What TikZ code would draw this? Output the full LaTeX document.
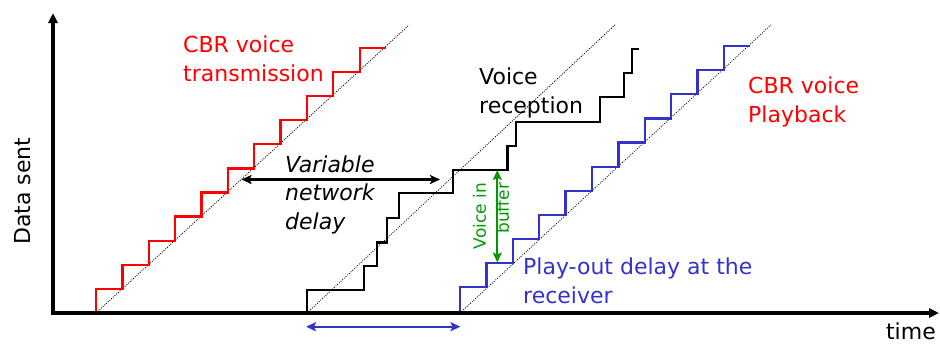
\documentclass[tikz,border=0pt]{standalone}
\usepackage{fontspec}
\setmainfont{DejaVu Sans}
\usetikzlibrary{arrows.meta}
\definecolor{cbrred}{RGB}{255,0,0}
\definecolor{pblue}{RGB}{51,51,204}
\definecolor{bgreen}{RGB}{0,153,0}
\begin{document}
\begin{tikzpicture}[x=1pt,y=-1pt,
  axis/.style={line width=3.3pt,-{Triangle[length=10pt,width=9pt]}},
  stair/.style={line width=2.3pt, line join=miter},
  guide/.style={line width=0.8pt, dash pattern=on 1pt off 1.3pt},
  lbl/.style={font=\fontsize{22}{29}\selectfont, inner sep=0pt, align=left, anchor=base west},
  dbl/.style={line width=2.2pt, {Stealth[length=10pt,width=9pt,inset=2pt]}-{Stealth[length=10pt,width=9pt,inset=2pt]}},
]
\useasboundingbox (0,0) rectangle (940,343);

% guides
\coordinate (gr0) at (96,313);  \coordinate (gr1) at (409,25);
\coordinate (gk0) at (307,313); \coordinate (gk1) at (616,24);
\coordinate (gb0) at (460,313); \coordinate (gb1) at (772,24);
\draw[guide] (gr0) -- (gr1);
\draw[guide] (gk0) -- (gk1);
\draw[guide] (gb0) -- (gb1);

% red transmission staircase
\draw[stair, cbrred] (96,313) \foreach \i in {0,...,10} { -- ({96+26.37*\i},{289-24.13*\i}) -- ({96+26.37*(\i+1)},{289-24.13*\i}) };

% blue playback staircase
\draw[stair, pblue] (460,313) \foreach \i in {0,...,10} { -- ({460+26.4*\i},{287.3-24.13*\i}) -- ({460+26.4*(\i+1)},{287.3-24.13*\i}) };

% black reception staircase
\draw[stair, black] (307,313) -- (307,290) -- (364,290) -- (364,266) -- (376.7,266) -- (376.7,242.5)
  -- (387.3,242.5) -- (387.3,218.3) -- (398.7,218.3) -- (398.7,193) -- (453.3,193) -- (453.3,170)
  -- (507.5,170) -- (507.5,146) -- (516,146) -- (516,121.7) -- (600,121.7) -- (600,97.3)
  -- (624,97.3) -- (624,73.3) -- (632.3,73.3) -- (632.3,49.3) -- (639.3,49.3);

% axes
\coordinate (origin) at (53,313);
\coordinate (ytop) at (53,13);
\coordinate (xend) at (939,313);
\draw[axis] ([yshift=-1.65pt]origin) -- (ytop);
\draw[axis] ([xshift=-1.65pt]origin) -- (xend);

% arrows
\coordinate (vd0) at (241.5,179.5); \coordinate (vd1) at (440,179.5);
\draw[dbl, black] (vd0) -- (vd1);
\coordinate (pd0) at (306,326.7); \coordinate (pd1) at (460.5,326.7);
\draw[dbl, pblue] (pd0) -- (pd1);
\coordinate (vb0) at (497.3,170); \coordinate (vb1) at (497.3,262.5);
\draw[dbl, bgreen, line width=1.8pt] (vb0) -- (vb1);

% labels
\node[lbl, text=cbrred] (tx) at (183,81) {CBR voice\\transmission};
\node[lbl] (rx) at (479,113) {Voice\\reception};
\node[lbl, text=cbrred] (pb) at (748,122) {CBR voice\\Playback};
\node[lbl, text=pblue] (pod) at (523,303) {Play-out delay at the\\receiver};
\node[lbl, font=\fontsize{22}{28.5}\selectfont\itshape] (vnd) at (285,229) {Variable\\network\\delay};
\node[inner sep=0pt, rotate=90, anchor=base, font=\fontsize{22}{29}\selectfont] (ylab) at (30,191) {Data sent};
\node[inner sep=0pt, anchor=base east, font=\fontsize{22}{29}\selectfont] (xlab) at (936,339) {time};
\node[inner sep=0pt, rotate=90, align=right, text=bgreen, font=\fontsize{17}{23}\selectfont] (vib) at (491,216) {Voice in\\buffer};
\end{tikzpicture}
\end{document}
